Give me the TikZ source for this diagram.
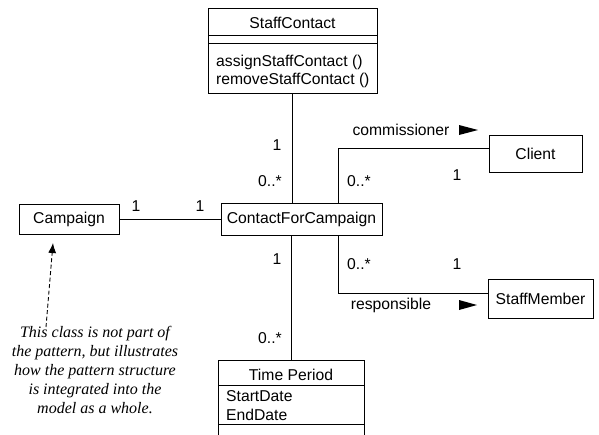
\documentclass[tikz,border=0pt]{standalone}
\usepackage{fontspec}
\setmainfont{Liberation Sans}
\newfontfamily\notefont{Liberation Serif}
\usetikzlibrary{arrows.meta}
\tikzset{
  cls/.style={draw, line width=1pt, inner sep=0pt},
  lbl/.style={inner sep=0pt, font=\fontsize{15.7}{18}\selectfont},
  assoc/.style={line width=0.9pt},
}
\begin{document}
\begin{tikzpicture}[x=1pt,y=-1pt]
\useasboundingbox (0,0) rectangle (599,434);
\fill[white] (0,0) rectangle (599,434);
% StaffContact class
\node[cls, minimum width=169pt, minimum height=85pt] (sc) at (292.5,50.5) {};
\draw[line width=1pt] (208,35) -- (377,35);
\draw[line width=1pt] (208,43) -- (377,43);
\node[lbl] (sct) at (292.5,23) {StaffContact};
\node[lbl, anchor=west] (sco1) at (216,62) {assignStaffContact ()};
\node[lbl, anchor=west] (sco2) at (216,80) {removeStaffContact ()};
% Campaign
\node[cls, minimum width=100pt, minimum height=30pt] (camp) at (69,219) {};
\node[lbl] (campt) at (69,219) {Campaign};
% ContactForCampaign
\node[cls, minimum width=161pt, minimum height=32pt] (cfc) at (301.5,219) {};
\node[lbl] (cfct) at (301.5,219) {ContactForCampaign};
% Client
\node[cls, minimum width=93pt, minimum height=37pt] (client) at (535.5,153.5) {};
\node[lbl] (clientt) at (535.5,153.5) {Client};
% StaffMember
\node[cls, minimum width=105pt, minimum height=39pt] (sm) at (540.5,298.5) {};
\node[lbl] (smt) at (540.5,298.5) {StaffMember};
% Time Period (cut off at bottom)
\node[cls, minimum width=146pt, minimum height=90pt] (tp) at (291,405) {};
\draw[line width=1pt] (218,385) -- (364,385);
\draw[line width=1pt] (218,424) -- (364,424);
\node[lbl] (tpt) at (291,375) {Time Period};
\node[lbl, anchor=west] (tpa1) at (226,396) {StartDate};
\node[lbl, anchor=west] (tpa2) at (226,415) {EndDate};
% connectors
\coordinate (c1) at (338,148);
\coordinate (c2) at (338,293);
\draw[assoc] (sc.south) -- (sc.south |- cfc.north);
\draw[assoc] (camp.east) -- (cfc.west);
\draw[assoc] (cfc.north -| c1) -- (c1) -- (client.west |- c1);
\draw[assoc] (cfc.south -| c2) -- (c2) -- (sm.west |- c2);
\draw[assoc] (cfc.south -| tp.north) -- (tp.north);
% multiplicities
\node[lbl] (m1) at (277,145) {1};
\node[lbl] (m2) at (270,181) {0..*};
\node[lbl] (m3) at (136,206) {1};
\node[lbl] (m4) at (200,206) {1};
\node[lbl] (m5) at (359,181) {0..*};
\node[lbl] (m6) at (457,175) {1};
\node[lbl] (m7) at (359,264) {0..*};
\node[lbl] (m8) at (457,264) {1};
\node[lbl] (m9) at (277,259) {1};
\node[lbl] (m10) at (270,338) {0..*};
% role names with direction triangles
\node[lbl] (comm) at (401,130) {commissioner};
\fill (459,125) -- (478,130) -- (459,135) -- cycle;
\node[lbl] (resp) at (391,305) {responsible};
\fill (459,300) -- (477,305) -- (459,310) -- cycle;
% note
\node[inner sep=0pt, align=center, font=\notefont\itshape\fontsize{16}{19}\selectfont] (note) at (95,370)
  {This class is not part of\\the pattern, but illustrates\\how the pattern structure\\is integrated into the\\model as a whole.};
\coordinate (ns) at (46,327);
\coordinate (nt) at (53,243);
\draw[line width=0.9pt, dash pattern=on 4pt off 2.5pt, -{Latex[length=10pt,width=8pt]}] (ns) -- (nt);
\end{tikzpicture}
\end{document}
